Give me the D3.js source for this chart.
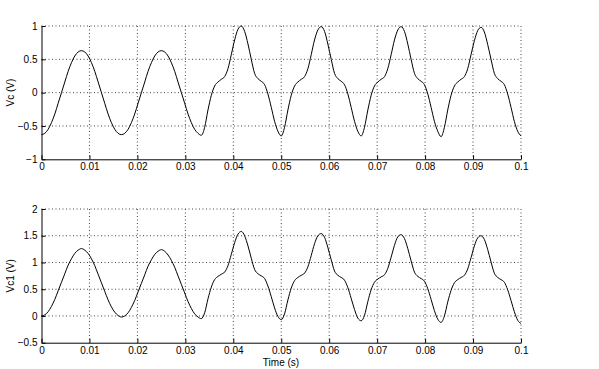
<!DOCTYPE html>
<html>
<head>
<meta charset="utf-8">
<script src="https://cdn.jsdelivr.net/npm/d3@7"></script>
<style>
  body { margin: 0; background: #fff; }
  svg { display: block; font-family: "Liberation Sans", Arial, sans-serif; }
  .tick text { font-size: 10px; fill: #000; }
  .domain, .tick line { stroke: #000; }
  .grid line { stroke: #444; stroke-dasharray: 1,2.5; }
</style>
</head>
<body>
<svg id="chart" width="599" height="369"></svg>
<script>
// sample times in ms (24 samples per 60 Hz cycle)
const timeMs = [
  0, 0.69, 1.39, 2.08, 2.78, 3.47, 4.17, 4.86, 5.56, 6.25, 6.94, 7.64,
  8.33, 9.03, 9.72, 10.42, 11.11, 11.81, 12.50, 13.19, 13.89, 14.58, 15.28, 15.97,
  16.67, 17.36, 18.06, 18.75, 19.44, 20.14, 20.83, 21.53, 22.22, 22.92, 23.61, 24.31,
  25.00, 25.69, 26.39, 27.08, 27.78, 28.47, 29.17, 29.86, 30.56, 31.25, 31.94, 32.64,
  33.33, 34.03, 34.72, 35.42, 36.11, 36.81, 37.50, 38.19, 38.89, 39.58, 40.28, 40.97,
  41.67, 42.36, 43.06, 43.75, 44.44, 45.14, 45.83, 46.53, 47.22, 47.92, 48.61, 49.31,
  50.00, 50.69, 51.39, 52.08, 52.78, 53.47, 54.17, 54.86, 55.56, 56.25, 56.94, 57.64,
  58.33, 59.03, 59.72, 60.42, 61.11, 61.81, 62.50, 63.19, 63.89, 64.58, 65.28, 65.97,
  66.67, 67.36, 68.06, 68.75, 69.44, 70.14, 70.83, 71.53, 72.22, 72.92, 73.61, 74.31,
  75.00, 75.69, 76.39, 77.08, 77.78, 78.47, 79.17, 79.86, 80.56, 81.25, 81.94, 82.64,
  83.33, 84.03, 84.72, 85.42, 86.11, 86.81, 87.50, 88.19, 88.89, 89.58, 90.28, 90.97,
  91.67, 92.36, 93.06, 93.75, 94.44, 95.14, 95.83, 96.53, 97.22, 97.92, 98.61, 99.31,
  100.00
];

// Vc (V)
const vc = [
  -0.63, -0.61, -0.55, -0.45, -0.32, -0.16, 0.00, 0.16, 0.32, 0.45, 0.55, 0.61,
  0.63, 0.61, 0.55, 0.45, 0.32, 0.16, 0.00, -0.16, -0.32, -0.45, -0.55, -0.61,
  -0.63, -0.61, -0.55, -0.45, -0.32, -0.16, 0.00, 0.16, 0.32, 0.45, 0.55, 0.61,
  0.63, 0.61, 0.55, 0.45, 0.32, 0.16, 0.00, -0.16, -0.32, -0.45, -0.55, -0.61,
  -0.64, -0.52, -0.26, -0.04, 0.10, 0.16, 0.20, 0.24, 0.36, 0.57, 0.79, 0.95,
  1.00, 0.92, 0.73, 0.50, 0.29, 0.21, 0.17, 0.12, -0.02, -0.22, -0.43, -0.58,
  -0.65, -0.52, -0.26, -0.04, 0.10, 0.16, 0.20, 0.24, 0.36, 0.57, 0.79, 0.94,
  0.99, 0.92, 0.73, 0.50, 0.29, 0.21, 0.17, 0.12, -0.02, -0.22, -0.43, -0.58,
  -0.65, -0.52, -0.26, -0.04, 0.10, 0.16, 0.20, 0.24, 0.36, 0.57, 0.79, 0.94,
  0.99, 0.92, 0.73, 0.50, 0.29, 0.21, 0.17, 0.12, -0.02, -0.22, -0.43, -0.58,
  -0.66, -0.52, -0.26, -0.04, 0.10, 0.16, 0.20, 0.24, 0.36, 0.57, 0.78, 0.93,
  0.98, 0.91, 0.72, 0.50, 0.29, 0.21, 0.17, 0.12, -0.02, -0.22, -0.43, -0.58,
  -0.65
];

// Vc1 (V)
const vc1 = [
  0.00, 0.02, 0.08, 0.18, 0.31, 0.47, 0.63, 0.79, 0.95, 1.07, 1.17, 1.23,
  1.26, 1.23, 1.17, 1.07, 0.94, 0.78, 0.62, 0.46, 0.30, 0.17, 0.07, 0.01,
  -0.02, 0.00, 0.06, 0.16, 0.29, 0.45, 0.61, 0.77, 0.93, 1.05, 1.15, 1.21,
  1.24, 1.21, 1.14, 1.04, 0.91, 0.75, 0.59, 0.43, 0.27, 0.14, 0.04, -0.02,
  -0.05, 0.06, 0.32, 0.54, 0.68, 0.74, 0.78, 0.82, 0.94, 1.15, 1.37, 1.53,
  1.58, 1.50, 1.31, 1.08, 0.87, 0.79, 0.75, 0.70, 0.56, 0.36, 0.15, -0.01,
  -0.07, 0.04, 0.30, 0.52, 0.66, 0.72, 0.76, 0.80, 0.92, 1.13, 1.35, 1.50,
  1.54, 1.47, 1.28, 1.05, 0.84, 0.76, 0.72, 0.67, 0.53, 0.33, 0.12, -0.04,
  -0.09, 0.01, 0.27, 0.49, 0.63, 0.69, 0.73, 0.77, 0.89, 1.10, 1.32, 1.48,
  1.52, 1.45, 1.26, 1.03, 0.82, 0.74, 0.70, 0.65, 0.51, 0.31, 0.10, -0.06,
  -0.12, 0.00, 0.26, 0.48, 0.62, 0.68, 0.72, 0.76, 0.88, 1.09, 1.31, 1.46,
  1.50, 1.43, 1.24, 1.01, 0.80, 0.72, 0.68, 0.63, 0.49, 0.29, 0.08, -0.08,
  -0.14
];

const xTicks = [0, 0.01, 0.02, 0.03, 0.04, 0.05, 0.06, 0.07, 0.08, 0.09, 0.1];
const vcTicks = [-1, -0.5, 0, 0.5, 1];
const vc1Ticks = [-0.5, 0, 0.5, 1, 1.5, 2];

const svg = d3.select("#chart");
const left = 41.5, right = 521;

const x = d3.scaleLinear().domain([0, 0.1]).range([left, right]);

function panel(values, yDomain, yTicks, top, bottom, label) {
  const y = d3.scaleLinear().domain(yDomain).range([bottom, top]);
  const g = svg.append("g");

  // dotted grid
  const grid = g.append("g").attr("class", "grid");
  grid.selectAll("line.v")
    .data(xTicks.slice(1))
    .enter().append("line")
    .attr("x1", d => x(d)).attr("x2", d => x(d))
    .attr("y1", top).attr("y2", bottom);
  grid.selectAll("line.h")
    .data(yTicks.slice(1))
    .enter().append("line")
    .attr("x1", left).attr("x2", right)
    .attr("y1", d => y(d)).attr("y2", d => y(d));

  g.append("g")
    .attr("transform", "translate(0," + bottom + ")")
    .call(d3.axisBottom(x).tickValues(xTicks).tickFormat(d3.format("~g"))
      .tickSizeInner(-4).tickSizeOuter(0).tickPadding(4));

  g.append("g")
    .attr("transform", "translate(" + left + ",0)")
    .call(d3.axisLeft(y).tickValues(yTicks).tickFormat(d3.format("~g"))
      .tickSizeInner(-4).tickSizeOuter(0).tickPadding(4));

  const line = d3.line()
    .x((d, i) => x(timeMs[i] / 1000))
    .y(d => y(d))
    .curve(d3.curveMonotoneX);

  g.append("path")
    .datum(values)
    .attr("d", line)
    .attr("fill", "none")
    .attr("stroke", "#000")
    .attr("stroke-width", 1);

  g.append("text")
    .attr("transform", "translate(10," + (top + bottom) / 2 + ") rotate(-90)")
    .attr("text-anchor", "middle")
    .attr("dy", "0.35em")
    .style("font-size", "10px")
    .text(label);
}

panel(vc, [-1, 1], vcTicks, 26, 159.3, "Vc (V)");
panel(vc1, [-0.5, 2], vc1Ticks, 209, 342.7, "Vc1 (V)");

svg.append("text")
  .attr("x", 281)
  .attr("y", 365.5)
  .attr("text-anchor", "middle")
  .style("font-size", "10px")
  .text("Time (s)");
</script>
</body>
</html>
